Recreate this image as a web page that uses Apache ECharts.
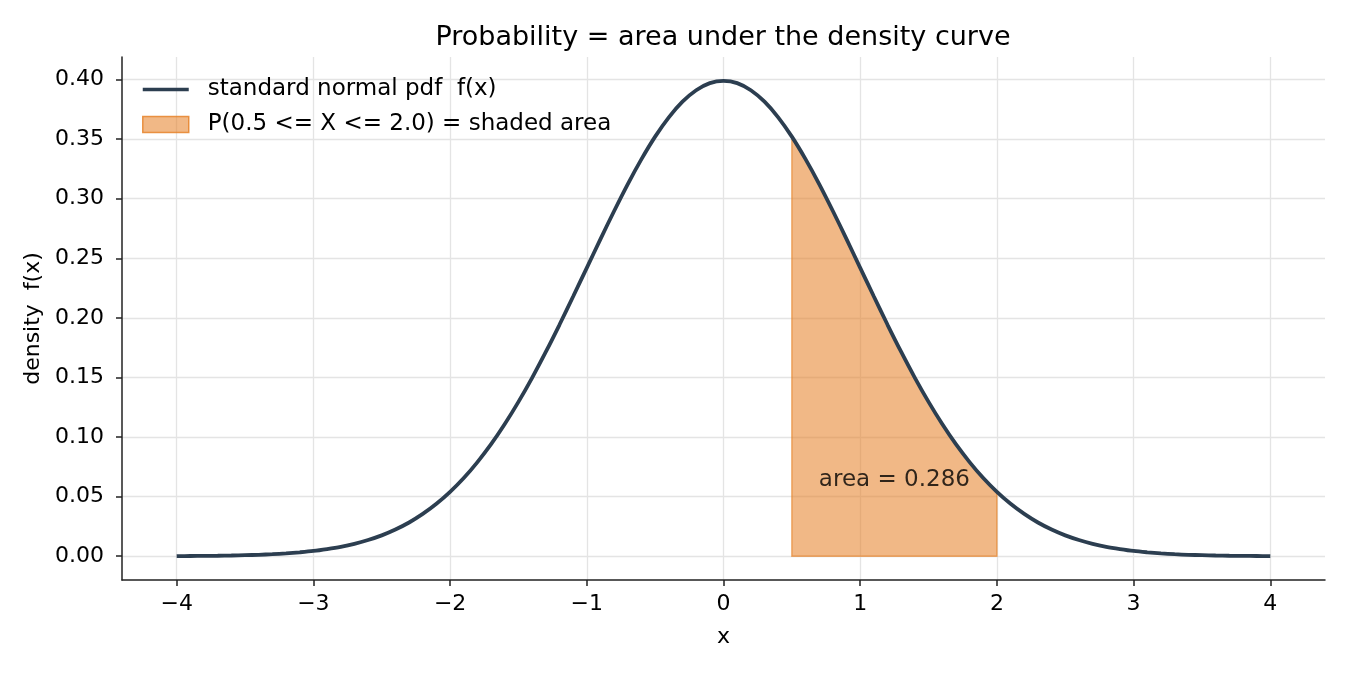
<!DOCTYPE html>
<html>
<head>
<meta charset="utf-8">
<title>Probability = area under the density curve</title>
<script src="https://cdn.jsdelivr.net/npm/echarts@6/dist/echarts.min.js"></script>
<style>
  html, body { margin: 0; padding: 0; background: #fff; }
  #chart { width: 1350px; height: 675px; }
</style>
</head>
<body>
<div id="chart"></div>
<script>
// curve points (x step 0.1, -4 .. 4)
const xValues = [-4.0, -3.9, -3.8, -3.7, -3.6, -3.5, -3.4, -3.3, -3.2, -3.1,
  -3.0, -2.9, -2.8, -2.7, -2.6, -2.5, -2.4, -2.3, -2.2, -2.1,
  -2.0, -1.9, -1.8, -1.7, -1.6, -1.5, -1.4, -1.3, -1.2, -1.1,
  -1.0, -0.9, -0.8, -0.7, -0.6, -0.5, -0.4, -0.3, -0.2, -0.1,
  0.0, 0.1, 0.2, 0.3, 0.4, 0.5, 0.6, 0.7, 0.8, 0.9,
  1.0, 1.1, 1.2, 1.3, 1.4, 1.5, 1.6, 1.7, 1.8, 1.9,
  2.0, 2.1, 2.2, 2.3, 2.4, 2.5, 2.6, 2.7, 2.8, 2.9,
  3.0, 3.1, 3.2, 3.3, 3.4, 3.5, 3.6, 3.7, 3.8, 3.9, 4.0];
const densityValues = [0.0001, 0.0002, 0.0003, 0.0004, 0.0006, 0.0009, 0.0012, 0.0017, 0.0024, 0.0033,
  0.0044, 0.0060, 0.0079, 0.0104, 0.0136, 0.0175, 0.0224, 0.0283, 0.0355, 0.0440,
  0.0540, 0.0656, 0.0790, 0.0940, 0.1109, 0.1295, 0.1497, 0.1714, 0.1942, 0.2179,
  0.2420, 0.2661, 0.2897, 0.3123, 0.3332, 0.3521, 0.3683, 0.3814, 0.3910, 0.3970,
  0.3989, 0.3970, 0.3910, 0.3814, 0.3683, 0.3521, 0.3332, 0.3123, 0.2897, 0.2661,
  0.2420, 0.2179, 0.1942, 0.1714, 0.1497, 0.1295, 0.1109, 0.0940, 0.0790, 0.0656,
  0.0540, 0.0440, 0.0355, 0.0283, 0.0224, 0.0175, 0.0136, 0.0104, 0.0079, 0.0060,
  0.0044, 0.0033, 0.0024, 0.0017, 0.0012, 0.0009, 0.0006, 0.0004, 0.0003, 0.0002, 0.0001];

// shaded region 0.5 .. 2.0
const shadeX = [0.5, 0.6, 0.7, 0.8, 0.9, 1.0, 1.1, 1.2, 1.3, 1.4, 1.5, 1.6, 1.7, 1.8, 1.9, 2.0];
const shadeY = [0.3521, 0.3332, 0.3123, 0.2897, 0.2661, 0.2420, 0.2179, 0.1942, 0.1714, 0.1497, 0.1295, 0.1109, 0.0940, 0.0790, 0.0656, 0.0540];

// tick labels
const xTicks = [-4, -3, -2, -1, 0, 1, 2, 3, 4];
const yTicks = [0, 0.05, 0.1, 0.15, 0.2, 0.25, 0.3, 0.35, 0.4];

const curveName = "standard normal pdf  f(x)";
const shadeName = "P(0.5 <= X <= 2.0) = shaded area";
const areaText = "area = 0.286";
const areaPos = [1.25, 0.064];

const FONT = "DejaVu Sans";
const chart = echarts.init(document.getElementById("chart"), null, { renderer: "canvas" });

const curveData = xValues.map((x, i) => [x, densityValues[i]]);
const shadeData = shadeX.map((x, i) => [x, shadeY[i]]);

const option = {
  animation: false,
  textStyle: { fontFamily: FONT, color: "#000" },
  title: {
    text: "Probability = area under the density curve",
    left: 718,
    top: 19,
    textAlign: "center",
    textStyle: { fontFamily: FONT, fontSize: 27, fontWeight: "normal", color: "#000" }
  },
  legend: {
    orient: "vertical",
    left: 142,
    top: 78,
    padding: 0,
    itemWidth: 46,
    itemHeight: 16,
    itemGap: 12,
    textStyle: { fontFamily: FONT, fontSize: 23, color: "#000", padding: [0, 0, 0, 14] },
    data: [
      { name: curveName, icon: "path://M0,0 L46,0 L46,3.5 L0,3.5 Z", itemStyle: { color: "#2c3e50" } },
      { name: shadeName, icon: "rect", itemStyle: { color: "rgba(230,126,34,0.55)", borderColor: "rgba(230,126,34,0.8)", borderWidth: 1.5 } }
    ]
  },
  grid: { left: 122, right: 25, top: 57, bottom: 95, containLabel: false },
  xAxis: {
    type: "value",
    min: -4.4,
    max: 4.4,
    name: "x",
    nameLocation: "middle",
    nameGap: 46,
    nameTextStyle: { fontFamily: FONT, fontSize: 22, color: "#000" },
    axisLine: { onZero: false, lineStyle: { color: "#222", width: 1.5 } },
    axisTick: { show: true, length: 6, customValues: xTicks, lineStyle: { color: "#222", width: 1.5 } },
    axisLabel: {
      customValues: xTicks,
      margin: 13,
      fontFamily: FONT,
      fontSize: 22,
      color: "#000",
      formatter: v => String(v).replace("-", "\u2212")
    },
    splitLine: { show: true, lineStyle: { color: "#e4e4e4", width: 1.3 } }
  },
  yAxis: {
    type: "value",
    min: -0.01995,
    max: 0.4189,
    name: "density  f(x)",
    nameLocation: "middle",
    nameGap: 75,
    nameTextStyle: { fontFamily: FONT, fontSize: 22, color: "#000" },
    axisLine: { show: true, onZero: false, lineStyle: { color: "#222", width: 1.5 } },
    axisTick: { show: true, length: 6, customValues: yTicks, lineStyle: { color: "#222", width: 1.5 } },
    axisLabel: {
      customValues: yTicks,
      margin: 18,
      fontFamily: FONT,
      fontSize: 22,
      color: "#000",
      formatter: v => v.toFixed(2)
    },
    splitLine: { show: true, lineStyle: { color: "#e4e4e4", width: 1.3 } }
  },
  series: [
    {
      name: shadeName,
      type: "custom",
      z: 1,
      silent: true,
      data: shadeData,
      renderItem: function (params, api) {
        if (params.dataIndex !== 0) return;
        const pts = shadeData.map(d => api.coord(d));
        pts.push(api.coord([shadeX[shadeX.length - 1], 0]));
        pts.push(api.coord([shadeX[0], 0]));
        return {
          type: "polygon",
          shape: { points: pts },
          style: { fill: "rgba(230,126,34,0.55)", stroke: "rgba(230,126,34,0.6)", lineWidth: 1.5 }
        };
      },
      itemStyle: { color: "rgba(230,126,34,0.55)", borderColor: "rgba(230,126,34,0.8)" }
    },
    {
      name: curveName,
      type: "line",
      z: 3,
      data: curveData,
      smooth: 0.3,
      symbol: "none",
      lineStyle: { color: "#2c3e50", width: 3.8 },
      itemStyle: { color: "#2c3e50" }
    },
    {
      name: "label",
      type: "scatter",
      z: 4,
      silent: true,
      symbolSize: 0,
      data: [areaPos],
      label: {
        show: true,
        position: "inside",
        formatter: areaText,
        fontFamily: FONT,
        fontSize: 23,
        color: "#000"
      }
    }
  ]
};

chart.setOption(option);
</script>
</body>
</html>
